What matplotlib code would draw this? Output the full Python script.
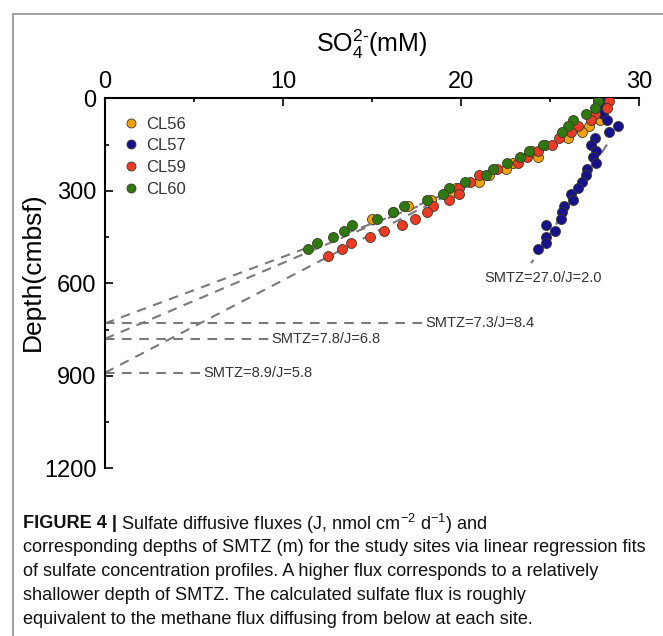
import matplotlib
matplotlib.use('Agg')
import matplotlib.pyplot as plt
from matplotlib.ticker import MultipleLocator
from matplotlib.lines import Line2D
import matplotlib.font_manager as fm

avail = {f.name for f in fm.fontManager.ttflist}
narrow = 'Liberation Sans Narrow' if 'Liberation Sans Narrow' in avail else 'Liberation Sans'

plt.rcParams['font.family'] = ['Liberation Sans', 'DejaVu Sans']
plt.rcParams['mathtext.fontset'] = 'custom'
plt.rcParams['mathtext.rm'] = 'Liberation Sans'
plt.rcParams['mathtext.it'] = 'Liberation Sans:italic'
plt.rcParams['mathtext.bf'] = 'Liberation Sans:bold'
plt.rcParams['mathtext.default'] = 'regular'

# ---------------- data ----------------
sites = ['CL56', 'CL57', 'CL59', 'CL60']

depth_cl56 = [10, 30, 50, 70, 90, 110, 130, 150, 170, 190, 210, 230, 250, 270, 290, 310, 330, 350, 370, 390]
so4_cl56 = [27.7, 27.8, 27.9, 27.8, 27.2, 26.8, 26.0, 24.7, 24.0, 24.3, 22.9, 22.5, 21.6, 21.0, 19.7, 19.4, 18.3, 17.0, 16.2, 15.0]

depth_cl57 = [10, 30, 50, 70, 90, 110, 130, 150, 170, 190, 210, 230, 250, 270, 290, 310, 330, 350, 370, 390, 410, 430, 450, 470, 490]
so4_cl57 = [28.0, 27.8, 28.0, 28.2, 28.8, 28.3, 27.5, 27.3, 27.6, 27.4, 27.6, 27.1, 27.0, 26.8, 26.6, 26.2, 26.3, 25.8, 25.7, 25.6, 24.8, 25.3, 24.8, 24.8, 24.3]

depth_cl59 = [10, 30, 50, 70, 90, 110, 130, 150, 170, 190, 210, 230, 250, 270, 290, 310, 330, 350, 370, 390, 410, 430, 450, 470, 490, 510]
so4_cl59 = [28.3, 28.2, 27.5, 27.3, 26.6, 26.2, 25.5, 25.1, 24.3, 23.7, 23.2, 22.0, 21.0, 20.5, 19.9, 19.9, 19.3, 18.4, 18.1, 17.4, 16.7, 15.7, 14.9, 13.8, 13.3, 12.5]

depth_cl60 = [10, 30, 50, 70, 90, 110, 150, 170, 190, 210, 230, 250, 270, 290, 310, 330, 350, 370, 390, 410, 430, 450, 470, 490]
so4_cl60 = [27.7, 27.5, 27.0, 26.3, 26.0, 25.7, 24.6, 23.8, 23.3, 22.6, 21.8, 21.4, 20.2, 19.3, 19.0, 18.1, 16.8, 16.2, 15.3, 13.9, 13.4, 12.8, 11.9, 11.4]

# regression fits: SMTZ depth (m) and flux J
smtz_m = [7.3, 7.8, 8.9, 27.0]
flux_j = [8.4, 6.8, 5.8, 2.0]
fit_top_so4 = [19.0, 19.5, 20.0, 28.2]
fit_top_depth = [320, 300, 290, 150]
cl57_fit_end_depth = 535

x_ticks = [0, 10, 20, 30]
y_ticks = [0, 300, 600, 900, 1200]

# ---------------- style ----------------
colors = ['#F5A20A', '#16128C', '#EE3A24', '#2F7A10']
line_col = '#7a7a7a'
dash = (0, (4.6, 3.6))

fig = plt.figure(figsize=(6.63, 6.36), dpi=100)
ax = fig.add_axes([105/663, 1-468.3/636, (639-105)/663, (468.3-98.3)/636])

series = [(depth_cl56, so4_cl56), (depth_cl57, so4_cl57), (depth_cl59, so4_cl59), (depth_cl60, so4_cl60)]

# fit lines
for i in range(3):
    ax.plot([0, fit_top_so4[i]], [smtz_m[i]*100, fit_top_depth[i]], ls=dash, color=line_col, lw=1.5, zorder=2)
# CL57 fit line
z0 = smtz_m[3]*100
c_end = fit_top_so4[3]*(z0-cl57_fit_end_depth)/(z0-fit_top_depth[3])
ax.plot([fit_top_so4[3], c_end], [fit_top_depth[3], cl57_fit_end_depth], ls=dash, color=line_col, lw=1.5, zorder=2)

# horizontal SMTZ lines and labels
label_x = [18.0, 9.35, 5.5]
for i in range(3):
    ax.plot([0, label_x[i]-0.15], [smtz_m[i]*100, smtz_m[i]*100], ls=dash, color=line_col, lw=1.5, zorder=2)
    ax.text(label_x[i], smtz_m[i]*100, f'SMTZ={smtz_m[i]:.1f}/J={flux_j[i]:.1f}', ha='left', va='center',
            fontsize=10.5, color='#333333')
ax.text(24.6, 583, f'SMTZ={smtz_m[3]:.1f}/J={flux_j[3]:.1f}', ha='center', va='center', fontsize=10.5, color='#333333')

# points
for (d, c), name, col in zip(series, sites, colors):
    ax.plot(c, d, 'o', ls='none', ms=7.2, mfc=col, mec='#3a3a2a', mew=0.6, label=name, zorder=3)

ax.set_xlim(0, 30)
ax.set_ylim(1200, 0)
ax.xaxis.tick_top()
ax.set_xticks(x_ticks)
ax.set_yticks(y_ticks)
ax.xaxis.set_minor_locator(MultipleLocator(5))
ax.yaxis.set_minor_locator(MultipleLocator(150))
ax.tick_params(which='both', direction='in', width=1.2, colors='black', labelsize=17)
ax.tick_params(which='major', length=5.5)
ax.tick_params(which='minor', length=3)
ax.tick_params(axis='x', pad=4)
ax.tick_params(axis='y', pad=6)
for s in ['bottom', 'right']:
    ax.spines[s].set_visible(False)
for s in ['top', 'left']:
    ax.spines[s].set_linewidth(1.5)

leg = ax.legend(loc='upper left', bbox_to_anchor=(0.009, 0.982), frameon=False, fontsize=12,
                handletextpad=0.25, labelspacing=0.40, borderaxespad=0.3, handlelength=1.2,
                markerscale=0.9)
for t in leg.get_texts():
    t.set_color('#333333')

fig.text(372/663, 1-44/636, r'SO$_4^{2\text{-}}$(mM)', ha='center', va='center', fontsize=18)
fig.text(33/663, 1-272/636, 'Depth(cmbsf)', ha='center', va='center', rotation=90, fontsize=19)

# frame
fig.add_artist(Line2D([13/663, 1.0], [1-14/636, 1-14/636], transform=fig.transFigure, color='#9a9a9a', lw=1.3))
fig.add_artist(Line2D([13/663, 13/663], [1-14/636, 0.0], transform=fig.transFigure, color='#9a9a9a', lw=1.3))

# caption
cap_lines = [
    r'Sulfate diffusive fluxes (J, nmol cm$^{-2}$ d$^{-1}$) and',
    'corresponding depths of SMTZ (m) for the study sites via linear regression fits',
    'of sulfate concentration profiles. A higher flux corresponds to a relatively',
    'shallower depth of SMTZ. The calculated sulfate flux is roughly',
    'equivalent to the methane flux diffusing from below at each site.',
]
cap_y = [524, 548, 572, 596, 620]
cap_fs = 13.1
fig.canvas.draw()
r = fig.canvas.get_renderer()
bold = fig.text(23/663, 1-cap_y[0]/636, 'FIGURE 4 |', ha='left', va='center', fontsize=cap_fs,
                fontweight='bold', family=[narrow, 'DejaVu Sans'], color='#111111')
bb = bold.get_window_extent(renderer=r)
fig.text((bb.x1 + 4)/663, 1-cap_y[0]/636, cap_lines[0], ha='left', va='center', fontsize=cap_fs,
         family=[narrow, 'DejaVu Sans'], color='#111111')
for ln, yy in zip(cap_lines[1:], cap_y[1:]):
    fig.text(23/663, 1-yy/636, ln, ha='left', va='center', fontsize=cap_fs,
             family=[narrow, 'DejaVu Sans'], color='#111111')

fig.savefig('out.png', dpi=100)
